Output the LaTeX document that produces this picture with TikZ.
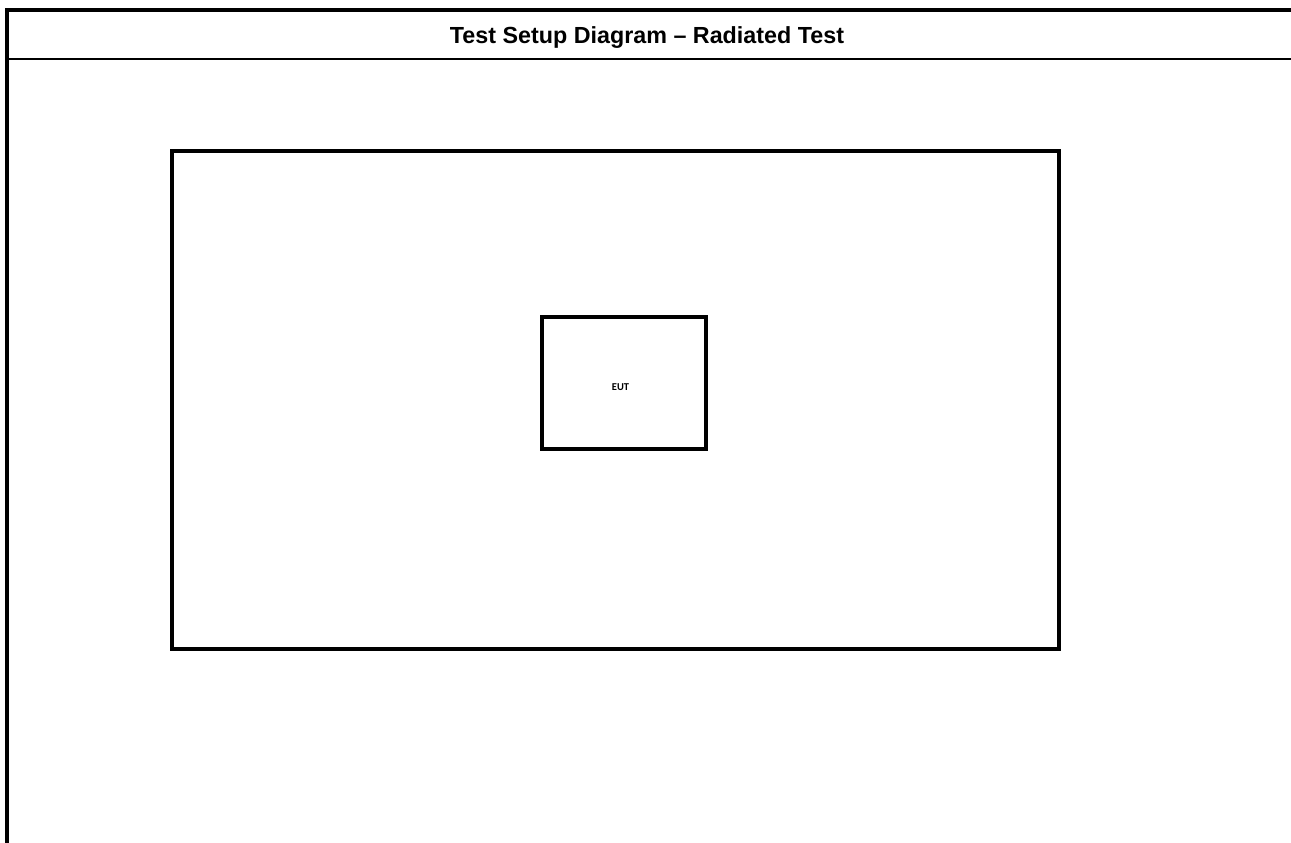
\documentclass[tikz,border=0pt]{standalone}
\usepackage{fontspec}
\setmainfont{Liberation Sans}
\newfontfamily\eutfont{Carlito}
\usetikzlibrary{positioning}

\begin{document}
\begin{tikzpicture}[x=1pt,y=-1pt,
  frameline/.style={line width=4pt},
  headline/.style={line width=2.5pt},
  box/.style={draw,line width=4pt,inner sep=0pt},
  head/.style={font=\bfseries\fontsize{23.3}{26}\selectfont,inner sep=0pt},
  small/.style={font=\eutfont\bfseries\fontsize{10.5}{12}\selectfont,inner sep=0pt}]
\useasboundingbox[fill=white] (0,0) rectangle (1291,843);
% frame and header
\draw[frameline] (7,843) -- (7,10) -- (1291,10);
\draw[headline] (7,59) -- (1291,59);
\node[head,anchor=base] (title) at (647,43.5) {Test Setup Diagram – Radiated Test};
% test area and EUT
\node[box,minimum width=887pt,minimum height=498pt] (room) at (615.5,400) {};
\node[box,minimum width=163.5pt,minimum height=132pt] (eut) at (623.75,383) {};
\node[small] (eutlabel) at (620.5,387) {EUT};
\end{tikzpicture}
\end{document}
